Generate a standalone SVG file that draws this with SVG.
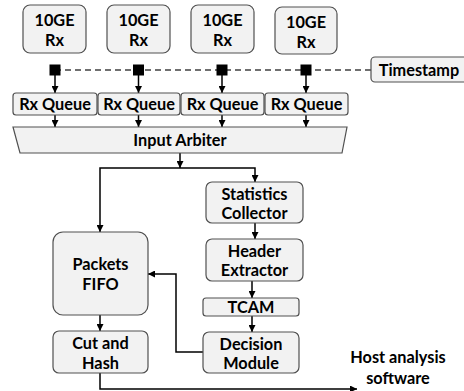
<svg xmlns="http://www.w3.org/2000/svg" width="464" height="391" viewBox="0 0 464 391">
  <defs>
    <marker id="ah" viewBox="0 0 10 10" refX="10" refY="5" markerWidth="7" markerHeight="7" markerUnits="userSpaceOnUse" orient="auto">
      <path d="M0,0 L10,5 L0,10 Z" fill="#000"/>
    </marker>
    <style>
      .box { fill: #f2f2f2; stroke: #505050; stroke-width: 1.2; }
      .lbl { font-family: Lato, "Open Sans", "Liberation Sans", sans-serif; font-weight: bold; font-size: 16.3px; fill: #000; text-anchor: middle; }
      .wire { fill: none; stroke: #000; stroke-width: 1.5; }
      .arr { fill: none; stroke: #000; stroke-width: 1.5; marker-end: url(#ah); }
      .dash { fill: none; stroke: #404040; stroke-width: 1.5; stroke-dasharray: 6 4; }
    </style>
  </defs>

  <!-- connectors -->
  <g id="connectors">
    <line class="dash" x1="55" y1="70" x2="371" y2="70"/>
    <line class="arr" x1="55" y1="70" x2="55" y2="93"/>
    <line class="arr" x1="138.5" y1="70" x2="138.5" y2="93"/>
    <line class="arr" x1="222" y1="70" x2="222" y2="93"/>
    <line class="arr" x1="306" y1="70" x2="306" y2="93"/>
    <line class="arr" x1="55" y1="115" x2="55" y2="127"/>
    <line class="arr" x1="138.5" y1="115" x2="138.5" y2="127"/>
    <line class="arr" x1="222" y1="115" x2="222" y2="127"/>
    <line class="arr" x1="306" y1="115" x2="306" y2="127"/>
    <line class="arr" x1="180" y1="153" x2="180" y2="168"/>
    <polyline class="arr" points="180,168 100,168 100,232"/>
    <polyline class="arr" points="180,168 255,168 255,182"/>
    <line class="arr" x1="255" y1="223" x2="255" y2="239"/>
    <line class="arr" x1="252" y1="281" x2="252" y2="298"/>
    <line class="arr" x1="252" y1="316" x2="252" y2="332"/>
    <polyline class="arr" points="203,352 176,352 176,274 148,274"/>
    <line class="arr" x1="100" y1="315" x2="100" y2="331"/>
    <polyline class="arr" points="100,373 100,389 357,389"/>
    <!-- timestamp taps -->
    <rect x="49.5" y="64.5" width="11" height="11" fill="#000"/>
    <rect x="133" y="64.5" width="11" height="11" fill="#000"/>
    <rect x="216.5" y="64.5" width="11" height="11" fill="#000"/>
    <rect x="300.5" y="64.5" width="11" height="11" fill="#000"/>
  </g>

  <!-- receivers -->
  <g id="rx1"><rect class="box" x="23" y="5" width="63" height="48" rx="7"/><text class="lbl" x="54.5" y="25.5">10GE</text><text class="lbl" x="54.5" y="45.5">Rx</text></g>
  <g id="rx2"><rect class="box" x="107" y="5" width="63" height="48" rx="7"/><text class="lbl" x="138.5" y="25.5">10GE</text><text class="lbl" x="138.5" y="45.5">Rx</text></g>
  <g id="rx3"><rect class="box" x="191" y="5" width="63" height="48" rx="7"/><text class="lbl" x="222.5" y="25.5">10GE</text><text class="lbl" x="222.5" y="45.5">Rx</text></g>
  <g id="rx4"><rect class="box" x="275" y="7" width="62" height="47" rx="7"/><text class="lbl" x="306" y="28">10GE</text><text class="lbl" x="306" y="48">Rx</text></g>

  <g id="timestamp"><rect class="box" x="371" y="57" width="98" height="25" rx="4"/><text class="lbl" x="419" y="75.5">Timestamp</text></g>

  <!-- queues -->
  <g id="q1"><rect class="box" x="13" y="93" width="84" height="22" rx="3"/><text class="lbl" x="55" y="110">Rx Queue</text></g>
  <g id="q2"><rect class="box" x="98" y="93" width="82" height="22" rx="3"/><text class="lbl" x="139" y="110">Rx Queue</text></g>
  <g id="q3"><rect class="box" x="181" y="93" width="83" height="22" rx="3"/><text class="lbl" x="222.5" y="110">Rx Queue</text></g>
  <g id="q4"><rect class="box" x="265" y="93" width="83" height="22" rx="3"/><text class="lbl" x="306.5" y="110">Rx Queue</text></g>

  <g id="arbiter"><polygon class="box" points="13,127 347,127 342,153 20,153"/><text class="lbl" x="180" y="146">Input Arbiter</text></g>

  <g id="stats"><rect class="box" x="206" y="182" width="97" height="41" rx="6"/><text class="lbl" x="254.5" y="199.5">Statistics</text><text class="lbl" x="254.5" y="218.5">Collector</text></g>
  <g id="header"><rect class="box" x="206" y="239" width="97" height="42" rx="6"/><text class="lbl" x="254.5" y="256.5">Header</text><text class="lbl" x="254.5" y="275.5">Extractor</text></g>
  <g id="tcam"><rect class="box" x="203" y="298" width="96" height="18" rx="3"/><text class="lbl" x="251" y="313">TCAM</text></g>
  <g id="decision"><rect class="box" x="203" y="332" width="96" height="41" rx="6"/><text class="lbl" x="251" y="349.5">Decision</text><text class="lbl" x="251" y="368.5">Module</text></g>

  <g id="fifo"><rect class="box" x="53" y="232" width="95" height="83" rx="10"/><text class="lbl" x="100.5" y="269.5">Packets</text><text class="lbl" x="100.5" y="289.5">FIFO</text></g>
  <g id="cut"><rect class="box" x="53" y="331" width="95" height="42" rx="6"/><text class="lbl" x="100.5" y="348.5">Cut and</text><text class="lbl" x="100.5" y="368.5">Hash</text></g>

  <g id="host"><text class="lbl" x="398" y="363">Host analysis</text><text class="lbl" x="398" y="384">software</text></g>
</svg>
